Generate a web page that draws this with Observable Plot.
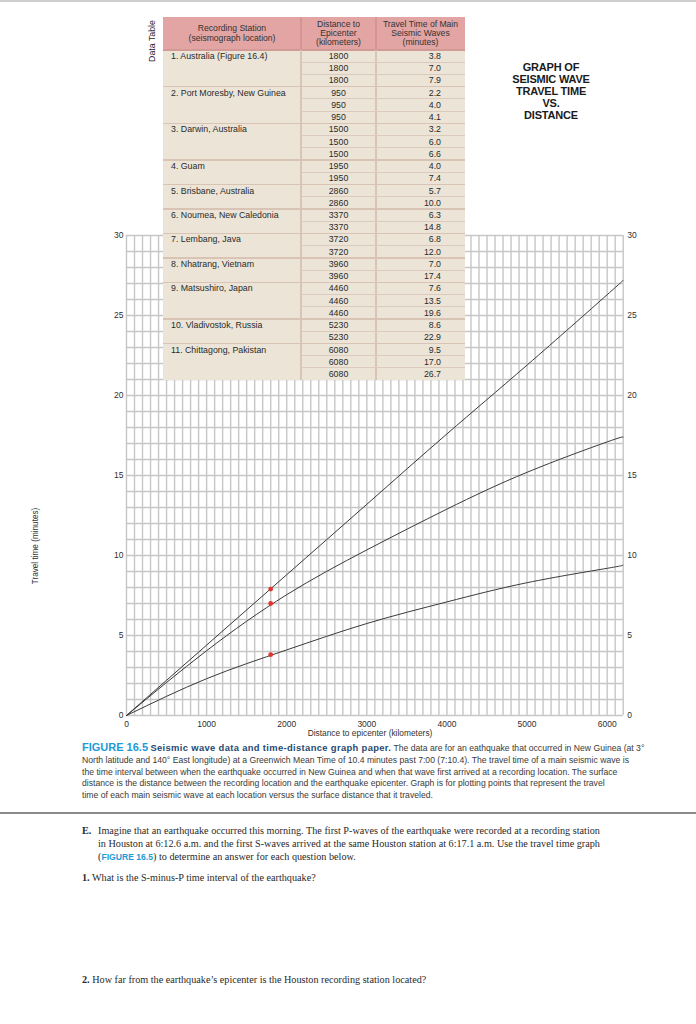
<!DOCTYPE html>
<html><head><meta charset="utf-8">
<script src="https://cdn.jsdelivr.net/npm/d3@7"></script>
<script src="https://cdn.jsdelivr.net/npm/@observablehq/plot@0.6"></script>
<style>
body{margin:0;background:#fff;}
#page{position:relative;width:696px;height:1024px;overflow:hidden;font-family:"Liberation Sans",Arial,sans-serif;color:#222;}
#chart{position:absolute;left:0;top:0;}
.abs{position:absolute;}
.topline{left:0;top:0;width:696px;height:2px;background:#cfcfcf;}
.tt{font-size:8.8px;color:#2a2a2a;white-space:nowrap;}
.hdr{font-size:8.6px;line-height:9.3px;color:#333;text-align:center;display:flex;align-items:center;justify-content:center;white-space:nowrap;}
#gtitle{left:490px;top:61px;width:122px;text-align:center;font-weight:bold;font-size:11px;line-height:12px;color:#1b1b1b;letter-spacing:-0.2px;}
#dtl{left:152px;top:41px;transform:translate(-50%,-50%) rotate(-90deg);font-size:8.8px;color:#1f2533;white-space:nowrap;}
#ytitle{left:35px;top:546px;transform:translate(-50%,-50%) rotate(-90deg);font-size:8.2px;color:#333;white-space:nowrap;}
#xtitle{left:370px;top:733px;transform:translate(-50%,-50%);font-size:8.4px;color:#333;white-space:nowrap;}
#caption{left:82px;top:742px;font-size:8.65px;line-height:11.8px;color:#3a3a3a;white-space:nowrap;}
#caption .fig{color:#1e9ad6;font-weight:bold;font-size:11px;}
#caption .bt{color:#1f4a72;font-weight:bold;font-size:9.4px;letter-spacing:0.35px;}
#sep{left:0;top:812px;width:696px;height:2px;background:#8a8a8a;}
.serif{font-family:"Liberation Serif","Times New Roman",serif;font-size:10.2px;color:#2a2a2a;white-space:nowrap;line-height:13px;}
.serif .blue{font-family:"Liberation Sans",Arial,sans-serif;color:#1e9ad6;font-weight:bold;font-size:8.6px;}
</style></head><body><div id="page">
<div class="abs topline"></div>
<div id="chart"></div>
<div id="tablebox"></div>
<div class="abs" id="dtl">Data Table</div>
<div class="abs" id="gtitle">GRAPH OF<br>SEISMIC WAVE<br>TRAVEL TIME<br>VS.<br>DISTANCE</div>
<div class="abs" id="ytitle">Travel time (minutes)</div>
<div class="abs" id="xtitle">Distance to epicenter (kilometers)</div>
<div class="abs" id="caption"><span class="fig">FIGURE 16.5</span> <span class="bt">Seismic wave data and time-distance graph paper.</span> The data are for an eathquake that occurred in New Guinea (at 3°<br>North latitude and 140° East longitude) at a Greenwich Mean Time of 10.4 minutes past 7:00 (7:10.4). The travel time of a main seismic wave is<br>the time interval between when the earthquake occurred in New Guinea and when that wave first arrived at a recording location. The surface<br>distance is the distance between the recording location and the earthquake epicenter. Graph is for plotting points that represent the travel<br>time of each main seismic wave at each location versus the surface distance that it traveled.</div>
<div class="abs" id="sep"></div>
<div class="abs serif" style="left:82px;top:824px;"><b>E.</b></div>
<div class="abs serif" style="left:98px;top:824px;">Imagine that an earthquake occurred this morning. The first P-waves of the earthquake were recorded at a recording station<br>in Houston at 6:12.6 a.m. and the first S-waves arrived at the same Houston station at 6:17.1 a.m. Use the travel time graph<br>(<span class="blue">FIGURE 16.5</span>) to determine an answer for each question below.</div>
<div class="abs serif" style="left:82px;top:871px;"><b>1.</b> What is the S-minus-P time interval of the earthquake?</div>
<div class="abs serif" style="left:82px;top:973px;"><b>2.</b> How far from the earthquake’s epicenter is the Houston recording station located?</div>
</div>
<script>
// ---- Data table ----
const stationNames = ["1. Australia (Figure 16.4)", "2. Port Moresby, New Guinea", "3. Darwin, Australia", "4. Guam", "5. Brisbane, Australia", "6. Noumea, New Caledonia", "7. Lembang, Java", "8. Nhatrang, Vietnam", "9. Matsushiro, Japan", "10. Vladivostok, Russia", "11. Chittagong, Pakistan"];
const stationDistanceKm = [1800, 950, 1500, 1950, 2860, 3370, 3720, 3960, 4460, 5230, 6080];
const stationTravelMin = [[3.8, 7.0, 7.9], [2.2, 4.0, 4.1], [3.2, 6.0, 6.6], [4.0, 7.4], [5.7, 10.0], [6.3, 14.8], [6.8, 12.0], [7.0, 17.4], [7.6, 13.5, 19.6], [8.6, 22.9], [9.5, 17.0, 26.7]];
const headerCol1 = ["Recording Station", "(seismograph location)"];
const headerCol2 = ["Distance to", "Epicenter", "(kilometers)"];
const headerCol3 = ["Travel Time of Main", "Seismic Waves", "(minutes)"];

// ---- Curves ----
const curveKm = [0, 1000, 2000, 3000, 4000, 5000, 6000, 6200];
const pWaveMin = [0, 2.3, 4.1, 5.75, 7.1, 8.3, 9.2, 9.4];
const sWaveMin = [0, 4.05, 7.55, 10.35, 12.9, 15.2, 17.1, 17.4];
const lWaveMin = [0, 4.4, 8.8, 13.2, 17.6, 21.9, 26.3, 27.2];

// ---- Axis ticks ----
const xTicks = [0, 1000, 2000, 3000, 4000, 5000, 6000];
const yTicks = [0, 5, 10, 15, 20, 25, 30];
const gridKm = d3.range(0, 6201, 100);
const gridMin = d3.range(0, 31, 1);

const curveRows = [];
[["P", pWaveMin], ["S", sWaveMin], ["L", lWaveMin]].forEach(([w, arr]) =>
  curveKm.forEach((k, i) => curveRows.push({wave: w, km: k, t: arr[i]})));
const dotRows = stationTravelMin[0].map(t => ({km: stationDistanceKm[0], t}));

const chart = Plot.plot({
  width: 696, height: 745,
  marginTop: 235, marginBottom: 30, marginLeft: 126, marginRight: 73.3,
  x: {domain: [0, 6200]},
  y: {domain: [0, 30]},
  style: {fontFamily: "'Liberation Sans', Arial, sans-serif", fontSize: "8.5px", color: "#2f2f2f", background: "transparent"},
  marks: [
    Plot.ruleX(gridKm, {stroke: "#c6c6c6", strokeWidth: 1.4}),
    Plot.ruleY(gridMin, {stroke: "#c6c6c6", strokeWidth: 1.4}),
    Plot.line(curveRows, {x: "km", y: "t", z: "wave", curve: "natural", stroke: "#3a3a3a", strokeWidth: 1}),
    Plot.dot(dotRows, {x: "km", y: "t", r: 2.4, fill: "#e3342f", stroke: "none"}),
    Plot.axisX(xTicks, {tickSize: 0, tickPadding: 5, tickFormat: d => String(d), label: null}),
    Plot.axisY(yTicks, {anchor: "left", tickSize: 0, tickPadding: 3, label: null}),
    Plot.axisY(yTicks, {anchor: "right", tickSize: 0, tickPadding: 4, label: null})
  ]
});
document.getElementById("chart").appendChild(chart);

// ---- Build table (HTML overlay) ----
const box = document.getElementById("tablebox");
const L = 163, colW = [138, 75, 89], hTop = 17, hH = 33, rowH = 12.23;
const W = colW[0] + colW[1] + colW[2];
const x1 = L + colW[0], x2 = x1 + colW[1];
const nRows = stationTravelMin.reduce((a, b) => a + b.length, 0);
function el(css, html, cls) {
  const d = document.createElement("div");
  d.className = cls ? "abs " + cls : "abs";
  d.style.cssText = css;
  if (html !== undefined) d.innerHTML = html;
  box.appendChild(d);
  return d;
}
el(`left:${L}px;top:${hTop}px;width:${W}px;height:${hH}px;background:#e2a5a4;`);
el(`left:${L}px;top:${hTop + hH}px;width:${W}px;height:${nRows * rowH}px;background:#ece5d7;`);
el(`left:${L}px;top:${hTop + hH - 1}px;width:${W}px;height:1.5px;background:#d29a94;`);
el(`left:${x1 - 1}px;top:${hTop}px;width:1.5px;height:${hH}px;background:#d59593;`);
el(`left:${x2 - 1}px;top:${hTop}px;width:1.5px;height:${hH}px;background:#d59593;`);
el(`left:${x1 - 1}px;top:${hTop + hH}px;width:1.5px;height:${nRows * rowH}px;background:#d9c5b6;`);
el(`left:${x2 - 1}px;top:${hTop + hH}px;width:1.5px;height:${nRows * rowH}px;background:#d9c5b6;`);
el(`left:${L}px;top:${hTop}px;width:${colW[0]}px;height:${hH}px;`, headerCol1.join("<br>"), "hdr");
el(`left:${x1}px;top:${hTop}px;width:${colW[1]}px;height:${hH}px;`, headerCol2.join("<br>"), "hdr");
el(`left:${x2}px;top:${hTop}px;width:${colW[2]}px;height:${hH}px;`, headerCol3.join("<br>"), "hdr");

let r = 0;
stationNames.forEach((name, si) => {
  const times = stationTravelMin[si];
  const top0 = hTop + hH + r * rowH;
  el(`left:${L + 8}px;top:${top0}px;height:${rowH}px;line-height:${rowH + 1}px;`, name, "tt");
  times.forEach((t, j) => {
    const top = hTop + hH + (r + j) * rowH;
    el(`left:${x1}px;top:${top}px;width:${colW[1]}px;text-align:center;line-height:${rowH + 1}px;`, String(stationDistanceKm[si]), "tt");
    el(`left:${x2}px;top:${top}px;width:${441 - x2}px;text-align:right;line-height:${rowH + 1}px;`, t.toFixed(1), "tt");
    if (j < times.length - 1) el(`left:${x1}px;top:${top + rowH - 0.5}px;width:${colW[1] + colW[2]}px;height:1px;background:#dccbbd;`);
  });
  r += times.length;
  if (si < stationNames.length - 1) el(`left:${L}px;top:${hTop + hH + r * rowH - 0.75}px;width:${W}px;height:1.5px;background:#d8c3b5;`);
});
</script>
</body></html>
